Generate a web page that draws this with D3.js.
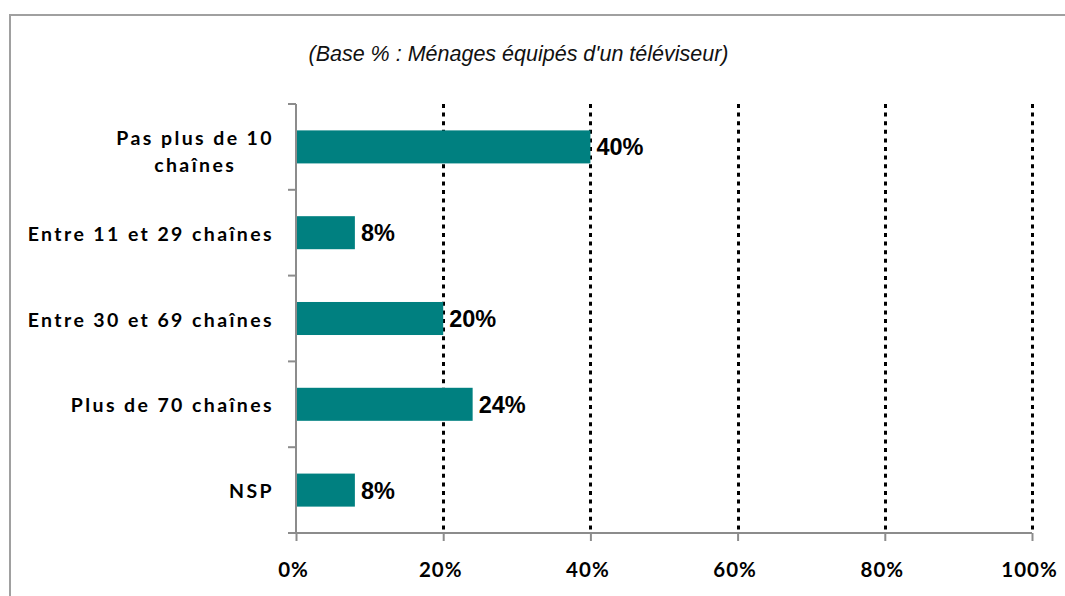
<!DOCTYPE html>
<html>
<head>
<meta charset="utf-8">
<script src="https://cdn.jsdelivr.net/npm/d3@7"></script>
<style>
  html, body { margin: 0; padding: 0; background: #fff; }
  svg { display: block; }
</style>
</head>
<body>
<svg id="chart" width="1065" height="596"></svg>
<script>
// Nombre de chaînes reçues par les ménages équipés d'un téléviseur
const categories = [
  ["Pas plus de 10", "chaînes"],
  ["Entre 11 et 29 chaînes"],
  ["Entre 30 et 69 chaînes"],
  ["Plus de 70 chaînes"],
  ["NSP"]
];
const values = [40, 8, 20, 24, 8];
const tickValues = [0, 20, 40, 60, 80, 100];
const subtitle = "(Base % : Ménages équipés d'un téléviseur)";

const svg = d3.select("#chart");
const W = 1065, H = 596;
const plot = { left: 296, right: 1032, top: 104, bottom: 533 };

const teal = "#008080";
const axisGrey = "#8c8c8c";
const labelFont = "Lato, 'Open Sans', sans-serif";
const valueFont = "'Liberation Sans', Arial, sans-serif";

// Cadre extérieur
svg.append("rect")
  .attr("x", 10).attr("y", 15)
  .attr("width", W + 20).attr("height", H + 20)
  .attr("fill", "none")
  .attr("stroke", "#a0a0a0")
  .attr("stroke-width", 2);

// Sous-titre
svg.append("text")
  .attr("x", 518.5).attr("y", 61)
  .attr("text-anchor", "middle")
  .attr("font-family", valueFont)
  .attr("font-style", "italic")
  .attr("font-size", 21.5)
  .attr("fill", "#111")
  .text(subtitle);

const x = d3.scaleLinear().domain([0, 100]).range([plot.left, plot.right]);
const y = d3.scaleBand()
  .domain(d3.range(categories.length))
  .range([plot.top, plot.bottom])
  .paddingInner(0.615)
  .paddingOuter(0.3075);

// Quadrillage vertical en pointillés
svg.append("g")
  .selectAll("line")
  .data(tickValues.filter(v => v > 0))
  .join("line")
  .attr("x1", d => Math.round(x(d)) + 0.5)
  .attr("x2", d => Math.round(x(d)) + 0.5)
  .attr("y1", plot.top)
  .attr("y2", plot.bottom)
  .attr("stroke", "#000")
  .attr("stroke-width", 3)
  .attr("stroke-dasharray", "4,4.6");

// Barres
svg.append("g")
  .selectAll("rect")
  .data(values)
  .join("rect")
  .attr("x", x(0))
  .attr("y", (d, i) => y(i))
  .attr("width", d => x(d) - x(0))
  .attr("height", y.bandwidth())
  .attr("fill", teal);

// Étiquettes de valeur
svg.append("g")
  .selectAll("text")
  .data(values)
  .join("text")
  .attr("x", d => x(d) + 6)
  .attr("y", (d, i) => y(i) + y.bandwidth() / 2)
  .attr("dy", "0.36em")
  .attr("font-family", valueFont)
  .attr("font-weight", "bold")
  .attr("font-size", 23.5)
  .attr("fill", "#000")
  .text(d => d + "%");

// Axe vertical (graduations entre catégories)
const yEdges = d3.range(categories.length + 1).map(i => plot.top + i * y.step());
const gy = svg.append("g");
gy.append("line")
  .attr("x1", plot.left).attr("x2", plot.left)
  .attr("y1", plot.top).attr("y2", plot.bottom)
  .attr("stroke", axisGrey).attr("stroke-width", 2);
gy.selectAll("line.tick")
  .data(yEdges)
  .join("line")
  .attr("class", "tick")
  .attr("x1", plot.left - 8).attr("x2", plot.left)
  .attr("y1", d => d).attr("y2", d => d)
  .attr("stroke", axisGrey).attr("stroke-width", 2);

// Axe horizontal
const xAxis = d3.axisBottom(x)
  .tickValues(tickValues)
  .tickSize(8)
  .tickFormat(d => d + "%");
const gx = svg.append("g")
  .attr("transform", `translate(0,${plot.bottom})`)
  .call(xAxis);
gx.select(".domain")
  .attr("d", `M${plot.left - 8},0H${plot.right}`)
  .attr("stroke", axisGrey).attr("stroke-width", 2);
gx.selectAll(".tick line").attr("stroke", axisGrey).attr("stroke-width", 2);
gx.selectAll(".tick text")
  .attr("x", -3)
  .attr("y", 44)
  .attr("dy", 0)
  .attr("font-family", labelFont)
  .attr("font-weight", "bold")
  .attr("font-size", 20.5)
  .attr("letter-spacing", "1px")
  .attr("fill", "#000");

// Libellés des catégories
const labelRight = 274;
const gl = svg.append("g");
categories.forEach((lines, i) => {
  const cy = y(i) + y.bandwidth() / 2;
  const t = gl.append("text")
    .attr("font-family", labelFont)
    .attr("font-weight", "bold")
    .attr("font-size", 19.5)
    .attr("letter-spacing", "2.4px")
    .attr("fill", "#000");
  if (lines.length === 1) {
    t.attr("x", labelRight).attr("y", cy + 1).attr("dy", "0.36em")
      .attr("text-anchor", "end").text(lines[0]);
  } else {
    const spans = lines.map((s, k) => t.append("tspan").text(s));
    const widths = spans.map(s => s.node().getComputedTextLength());
    const cx = labelRight - d3.max(widths) / 2;
    const lh = 27;
    t.attr("text-anchor", "middle");
    spans.forEach((s, k) => s
      .attr("x", cx)
      .attr("y", cy + 5 + (k - (lines.length - 1) / 2) * lh)
      .attr("dy", "0.36em"));
  }
});
</script>
</body>
</html>
